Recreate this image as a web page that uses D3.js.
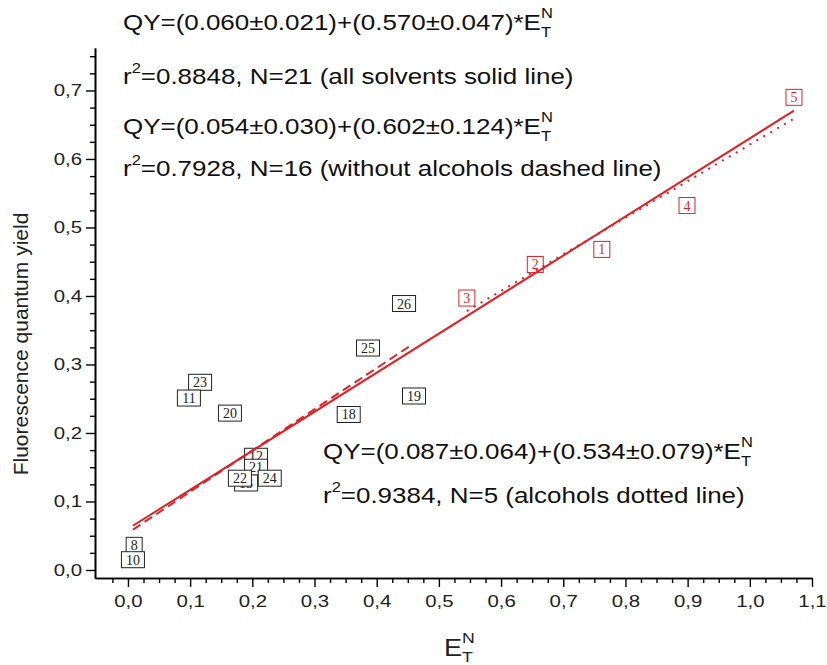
<!DOCTYPE html>
<html>
<head>
<meta charset="utf-8">
<script src="https://cdn.jsdelivr.net/npm/d3@7"></script>
<style>
  body { margin: 0; background: #fff; }
  svg { font-family: Arial, "Liberation Sans", sans-serif; }
</style>
</head>
<body>
<div id="chart"></div>
<script>
//Chart size, same as the window
const width = 827;
const height = 665;

//Solvent points: label, E_T^N, quantum yield, alcohol or not
const ptLabels = ["8", "10", "23", "11", "20", "18", "25", "26", "19", "12", "21", "13", "22", "24", "3", "2", "1", "4", "5"];
const ptX = [0.010, 0.008, 0.116, 0.098, 0.164, 0.355, 0.386, 0.444, 0.460, 0.206, 0.206, 0.190, 0.180, 0.228, 0.545, 0.655, 0.762, 0.899, 1.071];
const ptY = [0.036, 0.015, 0.274, 0.251, 0.229, 0.227, 0.324, 0.389, 0.254, 0.166, 0.150, 0.127, 0.134, 0.134, 0.397, 0.446, 0.468, 0.532, 0.690];
const ptAlcohol = [false, false, false, false, false, false, false, false, false, false, false, false, false, false, true, true, true, true, true];

//Fit lines: intercept, slope, x range
const fitNames = ["all", "noAlcohols", "alcohols"];
const fitIntercept = [0.060, 0.054, 0.087];
const fitSlope = [0.570, 0.602, 0.534];
const fitFrom = [0.008, 0.008, 0.545];
const fitTo = [1.071, 0.454, 1.071];

//Ticks
const xMajor = [0.0, 0.1, 0.2, 0.3, 0.4, 0.5, 0.6, 0.7, 0.8, 0.9, 1.0, 1.1];
const yMajor = [0.0, 0.1, 0.2, 0.3, 0.4, 0.5, 0.6, 0.7];

const red = "#e21f26";
const ink = "#111";
//the original text is a bit wider than plain Arial
const sx = 1.18;

const svg = d3.select("#chart").append("svg").attr("width", width).attr("height", height);

//Scales
const x = d3.scaleLinear().domain([-0.053, 1.1]).range([95, 812]);
const y = d3.scaleLinear().domain([-0.0117, 0.762]).range([578, 48]);

const fmt = d => d3.format(".1f")(d).replace(".", ",");

//Minor ticks every 0.025
const xMinor = d3.range(-0.025, 1.1, 0.025).filter(v => Math.abs(Math.round(v * 10) - v * 10) > 0.01);
const yMinor = d3.range(0.025, 0.76, 0.025).filter(v => Math.abs(Math.round(v * 10) - v * 10) > 0.01);

//X axis
const xg = svg.append("g").attr("transform", "translate(0,578)");
xg.append("g").call(d3.axisBottom(x).tickValues(xMinor).tickSize(5).tickSizeOuter(0).tickFormat(""));
xg.append("g").call(d3.axisBottom(x).tickValues(xMajor).tickSize(9).tickSizeOuter(0).tickFormat(fmt));

//Y axis
const yg = svg.append("g").attr("transform", "translate(95,0)");
yg.append("g").call(d3.axisLeft(y).tickValues(yMinor).tickSize(5).tickSizeOuter(0).tickFormat(""));
yg.append("g").call(d3.axisLeft(y).tickValues(yMajor).tickSize(9).tickSizeOuter(0).tickFormat(fmt));

svg.selectAll(".domain").attr("stroke", "#000").attr("stroke-width", 1.6);
svg.selectAll(".tick line").attr("stroke", "#000").attr("stroke-width", 1.4);
svg.selectAll(".tick text").attr("font-family", "Arial, 'Liberation Sans', sans-serif").attr("font-size", 17).attr("fill", "#222")
    .attr("transform", "scale(1.2,1)");
xg.selectAll(".tick text").attr("dy", "1.0em");
yg.selectAll(".tick text").attr("x", -13 / 1.2);

//Axis labels
svg.append("text")
    .attr("transform", "translate(28,344) rotate(-90)")
    .attr("text-anchor", "middle")
    .attr("font-size", 21)
    .attr("fill", "#222")
    .text("Fluorescence quantum yield");

const xl = svg.append("text").attr("transform", `translate(444,656) scale(${sx},1)`).attr("font-size", 23).attr("fill", "#222");
xl.append("tspan").text("E");
xl.append("tspan").attr("font-size", 15).attr("dy", -13).text("N");
xl.append("tspan").attr("font-size", 15).attr("dx", -11).attr("dy", 19).text("T");

//Points as labelled boxes
const pts = ptLabels.map((l, i) => ({ label: l, x: ptX[i], y: ptY[i], alc: ptAlcohol[i] }));
const boxes = svg.append("g").selectAll("g").data(pts).enter().append("g")
    .attr("transform", d => `translate(${x(d.x)},${y(d.y)})`);
boxes.append("rect")
    .attr("x", d => d.label.length > 1 ? -11.5 : -8)
    .attr("y", -8)
    .attr("width", d => d.label.length > 1 ? 23 : 16)
    .attr("height", 16)
    .attr("fill", "#fff")
    .attr("stroke", d => d.alc ? red : "#222")
    .attr("stroke-width", 1);
boxes.append("text")
    .attr("text-anchor", "middle")
    .attr("y", 5)
    .attr("font-family", "'Liberation Serif', 'DejaVu Serif', serif")
    .attr("font-size", 14)
    .attr("fill", d => d.alc ? red : "#222")
    .text(d => d.label);

//Fit lines
const dashes = [null, "9,5", "2,6"];
fitNames.forEach((n, i) => {
    svg.append("line")
        .attr("x1", x(fitFrom[i]))
        .attr("y1", y(fitIntercept[i] + fitSlope[i] * fitFrom[i]))
        .attr("x2", x(fitTo[i]))
        .attr("y2", y(fitIntercept[i] + fitSlope[i] * fitTo[i]))
        .attr("stroke", red)
        .attr("stroke-width", 2)
        .attr("stroke-dasharray", dashes[i]);
});

//Equation text, stretched a little sideways like the original
function eqLine(px, py, a, b) {
    const t = svg.append("text").attr("transform", `translate(${px},${py}) scale(${sx},1)`).attr("font-size", 22).attr("fill", ink);
    t.append("tspan").text(`QY=(${a})+(${b})*E`);
    t.append("tspan").attr("font-size", 14).attr("dy", -12).text("N");
    t.append("tspan").attr("font-size", 14).attr("dx", -10).attr("dy", 19).text("T");
}
function r2Line(px, py, rest) {
    const t = svg.append("text").attr("transform", `translate(${px},${py}) scale(${sx},1)`).attr("font-size", 22).attr("fill", ink);
    t.append("tspan").text("r");
    t.append("tspan").attr("font-size", 14).attr("dy", -11).text("2");
    t.append("tspan").attr("dy", 11).text(rest);
}
eqLine(123, 30, "0.060±0.021", "0.570±0.047");
r2Line(123, 84, "=0.8848, N=21 (all solvents solid line)");
eqLine(123, 134, "0.054±0.030", "0.602±0.124");
r2Line(123, 176, "=0.7928, N=16 (without alcohols dashed line)");
eqLine(323, 459, "0.087±0.064", "0.534±0.079");
r2Line(323, 503, "=0.9384, N=5 (alcohols dotted line)");
</script>
</body>
</html>
